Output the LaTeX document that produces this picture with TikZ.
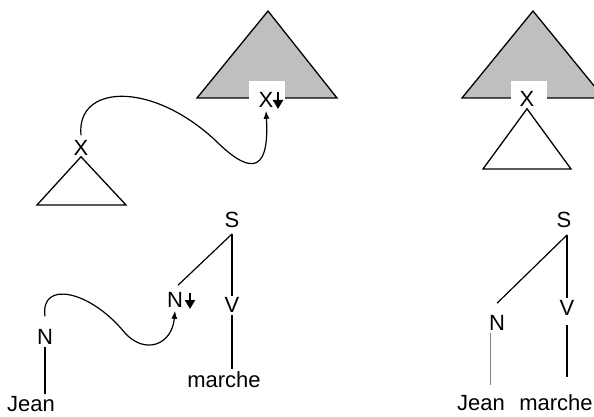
\documentclass[tikz,border=0pt]{standalone}
\usepackage{fontspec}
\setmainfont{Liberation Sans}
\usetikzlibrary{arrows,arrows.meta}
\tikzset{>=latex}

\begin{document}
\begin{tikzpicture}[x=1pt,y=-1pt]
                        % tri = elementary tree, subst = substitution mark
                        \tikzstyle{every node}=[font=\fontsize{22}{26}\selectfont, inner sep=2pt]
                        \tikzstyle{tri}=[black, line width=1.3pt, line join=miter]
                        \tikzstyle{subst}=[line width=2.2pt, -{Triangle[length=9pt,width=10pt]}]
                        \tikzstyle{branch}=[black, line width=1.2pt]
                        \tikzstyle{link}=[black, -{Latex[length=8pt,width=6pt]}, line width=1.2pt]
                        \clip (0,0) rectangle (594,417);

                        % substitution of X
                        \draw[tri, fill=gray!50] (268,11) -- (337,98) -- (197,98) -- cycle;
                        \fill[white] (249,81) rectangle (285,100);
                        \node (Xs) at (266,100) {X};
                        \draw[subst] ([xshift=12pt,yshift=8pt]Xs.center) -- ++(0,17);
                        \node (Xa) at (81,148) {X};
                        \draw[tri] ([yshift=1pt]Xa.south) -- (126,205) -- (37,205) -- cycle;
                        \draw[link] ([yshift=3pt]Xa.north) .. controls (76,85) and (150,80) ..
                                (215,140) .. controls (245,170) and (270,180) .. ([yshift=-1pt]Xs.south);

                        % result of the substitution
                        \draw[tri, fill=gray!50] (533,11) -- (604,98) -- (462,98) -- cycle;
                        \fill[white] (511,81) rectangle (547,100);
                        \node (Xr) at (527,99) {X};
                        \draw[tri] (Xr.south) -- (571,169) -- (483,169) -- cycle;

                        % Jean + marche
                        \node (S) at (232,220) {S};
                        \node (Ns) at (175,300) {N};
                        \node (V) at (232,305) {V};
                        \node[anchor=base] (m) at (224,387) {marche};
                        \node (Nj) at (45,337) {N};
                        \node[anchor=base] (j) at (31,411) {Jean};
                        \draw[branch] ([yshift=-4pt]S.south) -- ([xshift=3pt,yshift=5pt]Ns.north);
                        \draw[branch] ([yshift=-4pt]S.south) -- ([yshift=-1pt]V.north);
                        \draw[branch] (V.south) -- (V.south |- m.north);
                        \draw[subst] ([xshift=15pt,yshift=7pt]Ns.center) -- ++(0,16);
                        \draw[branch] (Nj.south) -- (Nj.south |- j.north);
                        \draw[link] ([yshift=11pt]Nj.north) .. controls (40,280) and (90,290) ..
                                (125,333) .. controls (145,355) and (172,345) .. ([yshift=-1pt]Ns.south);

                        % derived tree
                        \node (Sr) at (564,220) {S};
                        \node (Nr) at (497,323) {N};
                        \node (Vr) at (567,308) {V};
                        \node[anchor=base] (jr) at (481,410) {Jean};
                        \node[anchor=base] (mr) at (556,410) {marche};
                        \draw[branch] ([xshift=3pt,yshift=-5pt]Sr.south) -- ([yshift=10pt]Nr.north);
                        \draw[branch] ([xshift=3pt,yshift=-5pt]Sr.south) -- (Vr.north);
                        \draw[branch, shorten <=7pt, shorten >=15pt] (Vr.south) -- (Vr.south |- mr.north);
                        \draw[gray, line width=0.8pt, shorten >=8pt] ([xshift=-7pt]Nr.south) -- ([xshift=-7pt]Nr.south |- jr.north);
\end{tikzpicture}
\end{document}
